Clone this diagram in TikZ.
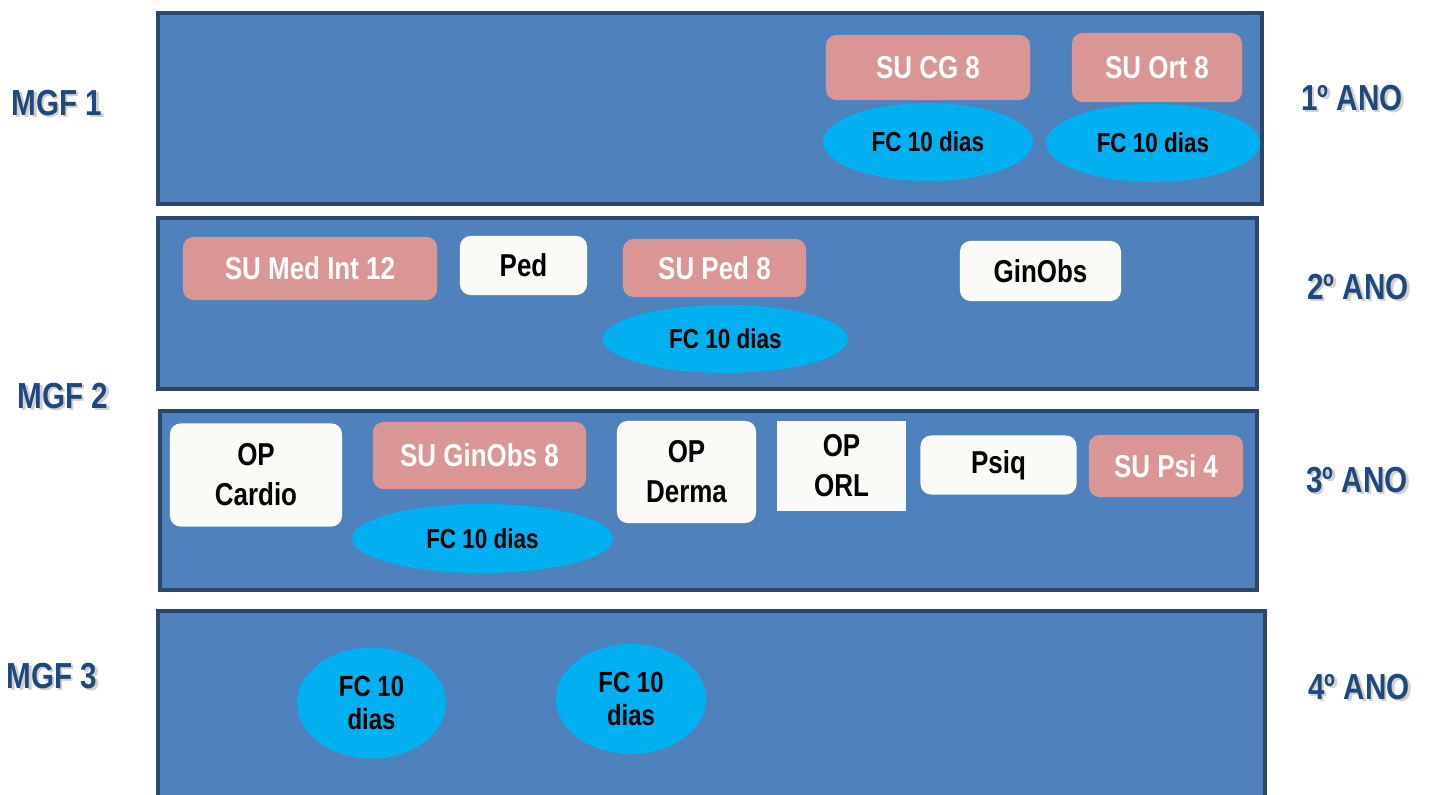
\documentclass[tikz,border=0pt]{standalone}
\usepackage{fontspec}
\setmainfont[FakeStretch=0.82]{Liberation Sans}
\usetikzlibrary{shapes.geometric}

\definecolor{bandfill}{RGB}{79,129,189}
\definecolor{bandline}{RGB}{44,70,108}
\definecolor{supink}{RGB}{217,150,148}
\definecolor{opwhite}{RGB}{250,250,247}
\definecolor{fccyan}{RGB}{0,176,240}
\definecolor{labelblue}{RGB}{31,73,125}

% text with a soft drop shadow
\newcommand{\shd}[1]{\rlap{\hspace{0.7pt}\raisebox{-0.7pt}{\textcolor{black!18}{#1}}}#1}

\tikzset{
  band/.style={draw=bandline, line width=1.2pt, fill=bandfill, inner sep=0pt},
  subox/.style={fill=supink, rounded corners=3pt, text=white, inner sep=0pt, align=center,
    font=\bfseries\fontsize{9}{11.4}\selectfont},
  opbox/.style={fill=opwhite, rounded corners=3pt, text=black, inner sep=0pt, align=center,
    font=\bfseries\fontsize{9}{11.4}\selectfont},
  fcell/.style={ellipse, fill=fccyan, text=black, inner sep=0pt, align=center,
    font=\bfseries\fontsize{7.8}{9.5}\selectfont},
  yearlbl/.style={text=labelblue, inner sep=0pt, font=\bfseries\fontsize{10.3}{12}\selectfont}
}

\begin{document}
\begin{tikzpicture}[x=0.01cm, y=-0.01cm]
  \useasboundingbox (0,0) rectangle (1429,795);
  \clip (0,0) rectangle (1429,795);

  % Drawing the four year bands
  \node [band, minimum width=11.04cm, minimum height=1.91cm] (ano1) at (710,108.5) {};
  \node [band, minimum width=10.99cm, minimum height=1.71cm] (ano2) at (707.5,303.5) {};
  \node [band, minimum width=10.97cm, minimum height=1.79cm] (ano3) at (708.5,500.5) {};
  \node [band, minimum width=11.07cm, minimum height=1.90cm] (ano4) at (711.5,706) {};

  % Labels on the left
  \node [yearlbl] (mgf1) at (57,104) {\shd{MGF 1}};
  \node [yearlbl] (mgf2) at (63,397) {\shd{MGF 2}};
  \node [yearlbl] (mgf3) at (52,677) {\shd{MGF 3}};

  % Labels on the right
  \node [yearlbl] (lbl1) at (1352,99) {\shd{1º ANO}};
  \node [yearlbl] (lbl2) at (1358,288) {\shd{2º ANO}};
  \node [yearlbl] (lbl3) at (1357,481) {\shd{3º ANO}};
  \node [yearlbl] (lbl4) at (1359,688) {\shd{4º ANO}};

  % First year
  \node [subox, minimum width=2.04cm, minimum height=0.65cm] (sucg) at (928,67.5) {SU CG 8};
  \node [subox, minimum width=1.70cm, minimum height=0.69cm] (suort) at (1157,67.5) {SU Ort 8};
  \node [fcell, minimum width=2.10cm, minimum height=0.78cm] (fccg) at (928,142) {FC 10 dias};
  \node [fcell, minimum width=2.14cm, minimum height=0.78cm] (fcort) at (1153,143) {FC 10 dias};

  % Second year
  \node [subox, minimum width=2.54cm, minimum height=0.63cm] (sumed) at (310,268.5) {SU Med Int 12};
  \node [opbox, minimum width=1.27cm, minimum height=0.59cm] (ped) at (523.5,265.5) {Ped};
  \node [subox, minimum width=1.83cm, minimum height=0.58cm] (suped) at (714.5,268) {SU Ped 8};
  \node [fcell, minimum width=2.45cm, minimum height=0.68cm] (fcped) at (725.5,339) {FC 10 dias};
  \node [opbox, minimum width=1.61cm, minimum height=0.60cm] (ginobs) at (1040.5,271) {GinObs};

  % Third year
  \node [opbox, minimum width=1.72cm, minimum height=1.03cm] (opcardio) at (256,475) {OP\\Cardio};
  \node [subox, minimum width=2.13cm, minimum height=0.67cm] (suginobs) at (479.5,455.5) {SU GinObs 8};
  \node [fcell, minimum width=2.61cm, minimum height=0.69cm] (fcginobs) at (482.5,538.5) {FC 10 dias};
  \node [opbox, minimum width=1.39cm, minimum height=1.02cm] (opderma) at (686.5,472) {OP\\Derma};
  \node [opbox, rounded corners=0pt, minimum width=1.29cm, minimum height=0.90cm] (oporl) at (841.5,466) {OP\\ORL};
  \node [opbox, minimum width=1.56cm, minimum height=0.59cm] (psiq) at (998.5,465) {Psiq};
  \node [subox, minimum width=1.54cm, minimum height=0.62cm] (supsi) at (1166,466) {SU Psi 4};

  % Fourth year
  \node [fcell, font=\bfseries\fontsize{8.3}{9.6}\selectfont, minimum width=1.49cm, minimum height=1.11cm] (fcmgf3a) at (371.5,703) {FC 10\\dias};
  \node [fcell, font=\bfseries\fontsize{8.3}{9.6}\selectfont, minimum width=1.50cm, minimum height=1.10cm] (fcmgf3b) at (631,699) {FC 10\\dias};
\end{tikzpicture}
\end{document}
